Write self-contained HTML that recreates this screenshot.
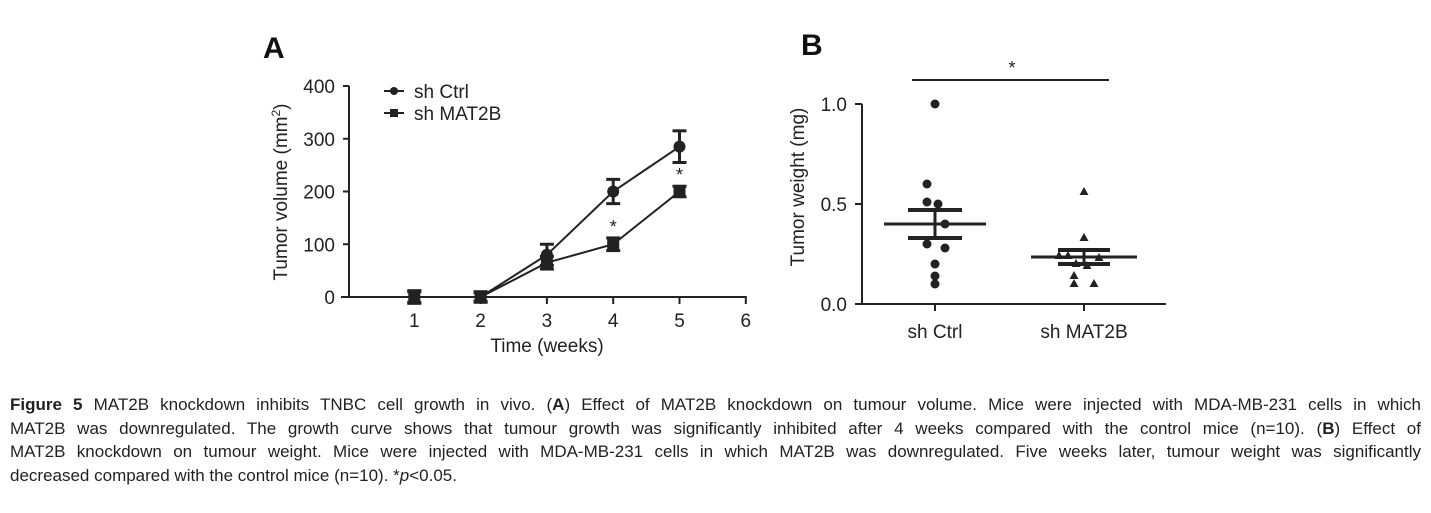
<!DOCTYPE html>
<html><head><meta charset="utf-8"><style>
body{margin:0;width:1431px;height:513px;background:#fff;overflow:hidden;position:relative;font-family:"Liberation Sans",sans-serif}
.cap{position:absolute;left:10px;width:1411px;top:393px;font-size:17px;line-height:23.6px;color:#231f20}
.cap div{text-align:justify;text-align-last:justify;white-space:nowrap}
.cap div.last{text-align-last:left}
</style></head><body>
<svg width="1431" height="390" style="position:absolute;left:0;top:0">
<g id="A"></g>
<g id="B"></g>
</svg>
<div class="cap">
<div><b>Figure 5</b> MAT2B knockdown inhibits TNBC cell growth in vivo. (<b>A</b>) Effect of MAT2B knockdown on tumour volume. Mice were injected with MDA-MB-231 cells in which</div>
<div>MAT2B was downregulated. The growth curve shows that tumour growth was significantly inhibited after 4 weeks compared with the control mice (n=10). (<b>B</b>) Effect of</div>
<div>MAT2B knockdown on tumour weight. Mice were injected with MDA-MB-231 cells in which MAT2B was downregulated. Five weeks later, tumour weight was significantly</div>
<div class="last">decreased compared with the control mice (n=10). *<i>p</i>&lt;0.05.</div>
</div>
<script>
const weeks=[1,2,3,4,5];
const ctrlMean=[0,0,80,200,285];
const ctrlErr=[12,10,20,23,30];
const matMean=[0,0,65,100,200];
const matErr=[10,8,12,12,10];
const xTicks=[1,2,3,4,5,6];
const yTicksA=[0,100,200,300,400];
const groups=["sh Ctrl","sh MAT2B"];
const ctrlWeights=[1.0,0.6,0.51,0.5,0.4,0.3,0.28,0.2,0.14,0.1];
const matWeights=[0.56,0.33,0.24,0.24,0.23,0.2,0.19,0.14,0.1,0.1];
const ctrlW=[0.4,0.07];
const matW=[0.235,0.035];
const yTicksB=[0.0,0.5,1.0];
const NS="http://www.w3.org/2000/svg";
function mk(p,t,a,txt){const e=document.createElementNS(NS,t);for(const k in a)e.setAttribute(k,a[k]);if(txt!==undefined)e.textContent=txt;p.appendChild(e);return e;}
const C="#222";
const A=document.getElementById('A');
const xA=v=>348+v*66.3, yA=v=>297-v*0.5275;
let e;
e=mk(A,'text',{x:263,y:58,'font-size':30,'font-weight':'bold',fill:'#111'},'A');


e=mk(A,'line',{x1:349,y1:yA(400),x2:349,y2:297,stroke:C,'stroke-width':2});


e=mk(A,'line',{x1:341,y1:297,x2:xA(6)+1,y2:297,stroke:C,'stroke-width':2});


yTicksA.forEach(v=>{mk(A,'line',{x1:343,y1:yA(v),x2:349,y2:yA(v),stroke:C,'stroke-width':2});
e=mk(A,'text',{x:335,y:yA(v)+7,'font-size':19,'text-anchor':'end',fill:'#222'},v);

});
xTicks.forEach(v=>{mk(A,'line',{x1:xA(v),y1:297,x2:xA(v),y2:304,stroke:C,'stroke-width':2});
e=mk(A,'text',{x:xA(v),y:327,'font-size':19,'text-anchor':'middle',fill:'#222'},v);

});
e=mk(A,'text',{x:547,y:352,'font-size':19,'text-anchor':'middle',fill:'#222'},'Time (weeks)');


e=mk(A,'text',{transform:'translate(287,192) rotate(-90)','font-size':19,'text-anchor':'middle',fill:'#222'});
e.innerHTML='Tumor volume (mm<tspan dy="-7" font-size="12">2</tspan><tspan dy="7">)</tspan>';


function series(mean,err,sq,name){
 mk(A,'polyline',{points:weeks.map((w,i)=>xA(w)+','+yA(mean[i])).join(' '),fill:'none',stroke:C,'stroke-width':2});
 weeks.forEach((w,i)=>{const x=xA(w);
  const g=mk(A,'g',{});
  
  
  mk(g,'line',{x1:x,y1:yA(mean[i]+err[i]),x2:x,y2:yA(mean[i]-err[i]),stroke:C,'stroke-width':3});
  mk(g,'line',{x1:x-7,y1:yA(mean[i]+err[i]),x2:x+7,y2:yA(mean[i]+err[i]),stroke:C,'stroke-width':3});
  mk(g,'line',{x1:x-7,y1:yA(mean[i]-err[i]),x2:x+7,y2:yA(mean[i]-err[i]),stroke:C,'stroke-width':3});
  if(sq)mk(g,'rect',{x:x-6,y:yA(mean[i])-6,width:12,height:12,fill:C});
  else mk(g,'circle',{cx:x,cy:yA(mean[i]),r:6,fill:C});});
}
series(ctrlMean,ctrlErr,false,'sh-ctrl');
series(matMean,matErr,true,'sh-mat2b');
[[4,matMean[3]+matErr[3]],[5,matMean[4]+matErr[4]]].forEach(p=>{e=mk(A,'text',{x:xA(p[0]),y:yA(p[1])-5,'font-size':18,'text-anchor':'middle',fill:'#222'},'*');

});
let lg=mk(A,'g',{});


mk(lg,'line',{x1:384,y1:91,x2:404,y2:91,stroke:C,'stroke-width':2});mk(lg,'circle',{cx:394,cy:91,r:4,fill:C});
mk(lg,'text',{x:414,y:98,'font-size':19,fill:'#222'},'sh Ctrl');
mk(lg,'line',{x1:384,y1:113,x2:404,y2:113,stroke:C,'stroke-width':2});mk(lg,'rect',{x:390,y:109,width:8,height:8,fill:C});
mk(lg,'text',{x:414,y:120,'font-size':19,fill:'#222'},'sh MAT2B');
const B=document.getElementById('B');
const yB=v=>304-v*200, xB=[935,1084];
e=mk(B,'text',{x:801,y:55,'font-size':30,'font-weight':'bold',fill:'#111'},'B');


e=mk(B,'line',{x1:862,y1:yB(1.0),x2:862,y2:305,stroke:C,'stroke-width':2});


e=mk(B,'line',{x1:855,y1:304,x2:1166,y2:304,stroke:C,'stroke-width':2});


yTicksB.forEach(v=>{mk(B,'line',{x1:855,y1:yB(v),x2:862,y2:yB(v),stroke:C,'stroke-width':2});
e=mk(B,'text',{x:847,y:yB(v)+7,'font-size':19,'text-anchor':'end',fill:'#222'},v.toFixed(1));

});
groups.forEach((g,i)=>{mk(B,'line',{x1:xB[i],y1:304,x2:xB[i],y2:311,stroke:C,'stroke-width':2});
e=mk(B,'text',{x:xB[i],y:338,'font-size':19,'text-anchor':'middle',fill:'#222'},g);

});
e=mk(B,'text',{transform:'translate(804,187) rotate(-90)','font-size':19,'text-anchor':'middle',fill:'#222'},'Tumor weight (mg)');


const offC=[0,-8,-8,3,10,-8,10,0,0,0];
const offM=[0,0,-25,-16,15,-8,3,-10,-10,10];
ctrlWeights.forEach((v,i)=>{e=mk(B,'circle',{cx:xB[0]+offC[i],cy:yB(v),r:4.5,fill:C});

});
matWeights.forEach((v,i)=>{const x=xB[1]+offM[i],y=yB(v);e=mk(B,'polygon',{points:`${x},${y-5} ${x-4.5},${y+3} ${x+4.5},${y+3}`,fill:C});

});
function meanBar(i,m,hw,cw){const x=xB[i];const g=mk(B,'g',{});


mk(g,'line',{x1:x-hw,y1:yB(m[0]),x2:x+hw,y2:yB(m[0]),stroke:C,'stroke-width':3});
mk(g,'line',{x1:x,y1:yB(m[0]+m[1]),x2:x,y2:yB(m[0]-m[1]),stroke:C,'stroke-width':3});
mk(g,'line',{x1:x-cw,y1:yB(m[0]+m[1]),x2:x+cw,y2:yB(m[0]+m[1]),stroke:C,'stroke-width':4});
mk(g,'line',{x1:x-cw,y1:yB(m[0]-m[1]),x2:x+cw,y2:yB(m[0]-m[1]),stroke:C,'stroke-width':4});}
meanBar(0,ctrlW,51,27);meanBar(1,matW,53,26);
e=mk(B,'line',{x1:912,y1:80,x2:1109,y2:80,stroke:C,'stroke-width':2});


e=mk(B,'text',{x:1012,y:74,'font-size':18,'text-anchor':'middle',fill:'#222'},'*');


</script>
</body></html>
